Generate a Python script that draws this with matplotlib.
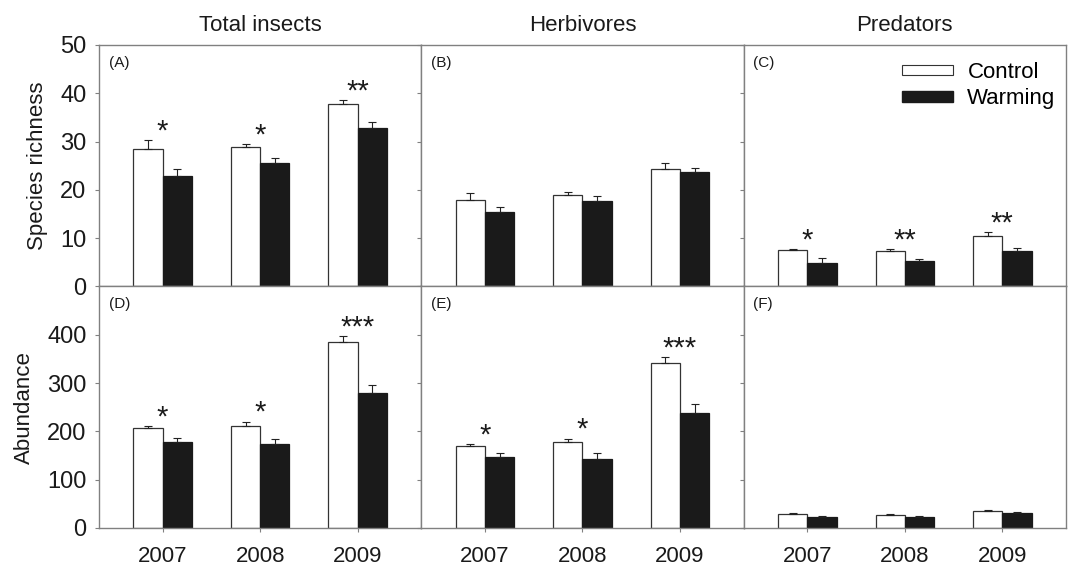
import numpy as np
import matplotlib
matplotlib.use('Agg')
import matplotlib.pyplot as plt
from matplotlib.patches import Rectangle

plt.rcParams['font.family'] = ['Liberation Sans', 'DejaVu Sans']

years = ['2007', '2008', '2009']
groups = ['Total insects', 'Herbivores', 'Predators']
row_labels = ['Species richness', 'Abundance']
panel_tags = [['(A)', '(B)', '(C)'], ['(D)', '(E)', '(F)']]

# species richness (means and SE) for control / warming
rich_ctrl = [[28.4, 28.9, 37.7], [18.0, 18.9, 24.4], [7.5, 7.3, 10.4]]
rich_ctrl_se = [[1.9, 0.6, 0.9], [1.4, 0.7, 1.1], [0.3, 0.4, 0.8]]
rich_warm = [[22.9, 25.5, 32.9], [15.4, 17.6, 23.8], [4.9, 5.3, 7.3]]
rich_warm_se = [[1.5, 1.1, 1.1], [1.0, 1.1, 0.8], [0.9, 0.3, 0.6]]

# abundance (means and SE)
abun_ctrl = [[206, 211, 386], [169, 177, 342], [30, 26, 35]]
abun_ctrl_se = [[5, 9, 11], [5, 8, 11], [2, 2, 1.5]]
abun_warm = [[177, 173, 279], [147, 143, 239], [22, 22, 31]]
abun_warm_se = [[10, 11, 18], [9, 13, 17], [2, 2, 3]]

# significance marks per panel and year
rich_sig = [['*', '*', '**'], ['', '', ''], ['*', '**', '**']]
abun_sig = [['*', '*', '***'], ['*', '*', '***'], ['', '', '']]

rows = [
    (rich_ctrl, rich_ctrl_se, rich_warm, rich_warm_se, rich_sig, 50, [0, 10, 20, 30, 40, 50]),
    (abun_ctrl, abun_ctrl_se, abun_warm, abun_warm_se, abun_sig, 500, [0, 100, 200, 300, 400]),
]

fig, axes = plt.subplots(2, 3, figsize=(10.71, 5.65), dpi=100)
fig.subplots_adjust(left=0.0924, right=0.9953, top=0.9204, bottom=0.0655, wspace=0, hspace=0)

x = np.arange(len(years))
w = 0.30
spine_col = '#808080'
text_col = '#1a1a1a'

for r, (ctrl, ctrl_se, warm, warm_se, sig, ymax, yticks) in enumerate(rows):
    for c in range(3):
        ax = axes[r, c]
        zeros = np.zeros(3)
        ax.bar(x - w / 2, ctrl[c], w, color='white', edgecolor='#333333', linewidth=0.9,
               yerr=[zeros, ctrl_se[c]], error_kw=dict(ecolor='#222222', elinewidth=0.8, capsize=3, capthick=0.8))
        ax.bar(x + w / 2, warm[c], w, color='#1a1a1a', edgecolor='#1a1a1a', linewidth=0.9,
               yerr=[zeros, warm_se[c]], error_kw=dict(ecolor='#222222', elinewidth=0.8, capsize=3, capthick=0.8))

        # significance stars above the highest error bar
        for i in range(3):
            if sig[c][i]:
                top = max(ctrl[c][i] + ctrl_se[c][i], warm[c][i] + warm_se[c][i])
                ax.annotate(sig[c][i], xy=(x[i], top), xytext=(0, 0.5), textcoords='offset points',
                            ha='center', va='baseline', fontsize=21, color=text_col)

        ax.set_xlim(-0.653, 2.653)
        ax.set_ylim(0, ymax)
        ax.set_yticks(yticks)
        ax.set_xticks(x)
        for s in ax.spines.values():
            s.set_color(spine_col)
            s.set_linewidth(1.0)
        ax.tick_params(direction='out', length=3, width=0.8, color=spine_col, labelcolor=text_col)
        ax.tick_params(axis='y', pad=6, labelsize=17)
        ax.tick_params(axis='x', pad=10, labelsize=16)
        if c == 0:
            ax.set_ylabel(row_labels[r], fontsize=16, color=text_col, labelpad=9)
        else:
            ax.set_yticklabels([])
        if r == 0:
            ax.set_xticklabels([])
            ax.set_title(groups[c], fontsize=16, color=text_col, pad=10)
        else:
            ax.set_xticklabels(years)
        ax.text(0.03, 0.955, panel_tags[r][c], transform=ax.transAxes, ha='left', va='top',
                fontsize=11, color=text_col)

handles = [Rectangle((0, 0), 1, 1, facecolor='white', edgecolor='#333333', linewidth=0.8),
           Rectangle((0, 0), 1, 1, facecolor='#1a1a1a', edgecolor='#1a1a1a')]
axes[0, 2].legend(handles, ['Control', 'Warming'], loc='upper right', bbox_to_anchor=(0.968, 0.93),
                  frameon=False, fontsize=16, handlelength=2.3, handleheight=0.35,
                  handletextpad=0.65, labelspacing=0.25, borderaxespad=0, borderpad=0)

plt.savefig('out.png', dpi=100)
